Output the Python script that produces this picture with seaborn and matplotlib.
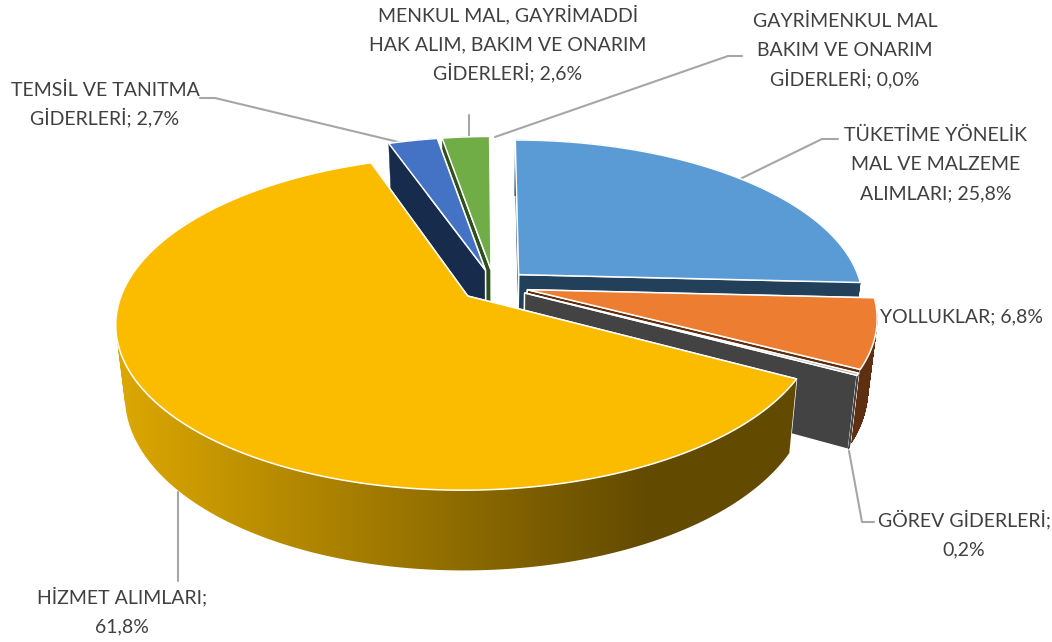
import numpy as np
import matplotlib
matplotlib.use('Agg')
import matplotlib.pyplot as plt
import matplotlib.colors as mcolors
from matplotlib.path import Path
from matplotlib.patches import PathPatch
import seaborn as sns

# data
names = ['TÜKETİME YÖNELİK\nMAL VE MALZEME\nALIMLARI', 'YOLLUKLAR', 'GÖREV GİDERLERİ',
         'HİZMET ALIMLARI', 'TEMSİL VE TANITMA\nGİDERLERİ',
         'MENKUL MAL, GAYRİMADDİ\nHAK ALIM, BAKIM VE ONARIM\nGİDERLERİ',
         'GAYRİMENKUL MAL\nBAKIM VE ONARIM\nGİDERLERİ']
values = [25.8, 6.8, 0.2, 61.8, 2.7, 2.6, 0.0]
name_breaks = ['; ', '; ', ';\n', ';\n', '; ', '; ', '; ']

top_colors = ['#5B9BD5', '#ED7D31', '#A5A5A5', '#FBBC00', '#4472C4', '#70AD47', '#255E91']
side_colors = ['#224059', '#5E2F10', '#434343', '#624A00', '#172B4D', '#2F4F1F', '#1A3F5F']

label_pos = [(936, 163), (962, 315), (964, 533.5), (122, 610.5), (105, 103), (508, 43.5), (845, 49)]
leaders = [[(740, 179), (822, 139), (838, 139)],
           [],
           [(849, 451), (862, 522), (874, 522)],
           [(178, 492), (178, 581)],
           [(200, 98), (215, 98), (415, 146)],
           [(469, 115), (469, 138)],
           [(495, 137), (728, 56), (742, 56)]]

# fake 3d pie geometry, fitted on the picture
X0, Y0 = 494, 285.5
B, A, K = 343, 159.4, 0.16
EXPLODE = 0.1
SHRINK = 0.976
LINE_H = 29


def project(u, v):
    d = 1 + K * v
    return X0 + B * u / d, Y0 - A * v / d


def lower(x, y, v):
    return X0 + (x - X0) * SHRINK, y + 68 - 11.5 * v


def wall_path(s):
    # union of quads, all wound the same way so overlaps do not cancel
    quads = []
    for j in range(len(s['x']) - 1):
        q = np.array([[s['x'][j], s['y'][j]], [s['x'][j + 1], s['y'][j + 1]],
                      [s['lx'][j + 1], s['ly'][j + 1]], [s['lx'][j], s['ly'][j]]])
        area = np.sum(q[:, 0] * np.roll(q[:, 1], -1) - np.roll(q[:, 0], -1) * q[:, 1])
        if area < 0:
            q = q[::-1]
        quads.append(Path(np.r_[q, q[:1]], closed=True))
    return Path.make_compound_path(*quads)


sns.set_theme(style='white')
plt.rcParams['font.family'] = ['Lato', 'DejaVu Sans']

fig, ax = plt.subplots(figsize=(10.52, 6.42), dpi=100)
ax.set_position([0, 0, 1, 1])

for pts in leaders:
    if pts:
        ax.plot(*zip(*pts), color='#A6A6A6', lw=1.5, zorder=1)

# angles run clockwise from the top
ends = 90 - np.cumsum(values) * 3.6
starts = np.r_[90, ends[:-1]]
slices = {}
for i, val in enumerate(values):
    if val <= 0:
        continue
    th = np.radians(np.linspace(starts[i], ends[i], max(int(val * 14) + 2, 2)))
    mid = np.radians((starts[i] + ends[i]) / 2)
    du, dv = EXPLODE * np.cos(mid), EXPLODE * np.sin(mid)
    rim_u, rim_v = du + np.cos(th), dv + np.sin(th)
    x, y = project(rim_u, rim_v)
    ax_, ay_ = project(du, dv)
    lx, ly = lower(x, y, rim_v)
    alx, aly = lower(ax_, ay_, dv)
    slices[i] = dict(x=x, y=y, ax=ax_, ay=ay_, lx=lx, ly=ly, alx=alx, aly=aly, mid=mid)

# yellow wall gradient, left to right
grad = mcolors.LinearSegmentedColormap.from_list('wall', ['#DAA600', '#624A00'])
grad_x = np.arange(100, 830)
grad_t = np.clip((grad_x - 125) / (650 - 125), 0, 1)

# painter order, far slices first
order = [5, 4, 0, 1, 2, 3]
z = 2
for i in order:
    s = slices[i]
    side = side_colors[i]
    # cut faces, the one facing us goes last
    cuts = (-1, 0) if np.sin(s['mid']) > 0 else (0, -1)
    for k in cuts:
        z += 1
        ax.fill([s['ax'], s['x'][k], s['lx'][k], s['alx']],
                [s['ay'], s['y'][k], s['ly'][k], s['aly']],
                facecolor=side, edgecolor='white', lw=1.0, zorder=z)
    # outer wall
    z += 1
    wp = wall_path(s)
    if i == 3:
        img = ax.imshow(grad_t[None, :], cmap=grad, vmin=0, vmax=1, aspect='auto',
                        extent=(100, 830, 642, 0), zorder=z)
        img.set_clip_path(PathPatch(wp, transform=ax.transData))
    else:
        ax.add_patch(PathPatch(wp, facecolor=side, edgecolor=side, lw=0.3, zorder=z))
    # top
    z += 1
    ax.fill(np.r_[s['ax'], s['x']], np.r_[s['ay'], s['y']],
            facecolor=top_colors[i], edgecolor='white', lw=1.1, zorder=z, joinstyle='miter')

ax.set_xlim(0, 1052)
ax.set_ylim(642, 0)
ax.axis('off')

# one text per line, matplotlib spaces lines unevenly with the dotted capitals
for name, val, brk, (lx, ly) in zip(names, values, name_breaks, label_pos):
    lines = (name + brk + f'{val:.1f}%'.replace('.', ',')).split('\n')
    for n, line in enumerate(lines):
        ax.text(lx, ly + 7 + (n - (len(lines) - 1) / 2) * LINE_H, line, ha='center', va='baseline',
                fontsize=14, color='#404040', zorder=100)

fig.savefig('out.png', dpi=100)
